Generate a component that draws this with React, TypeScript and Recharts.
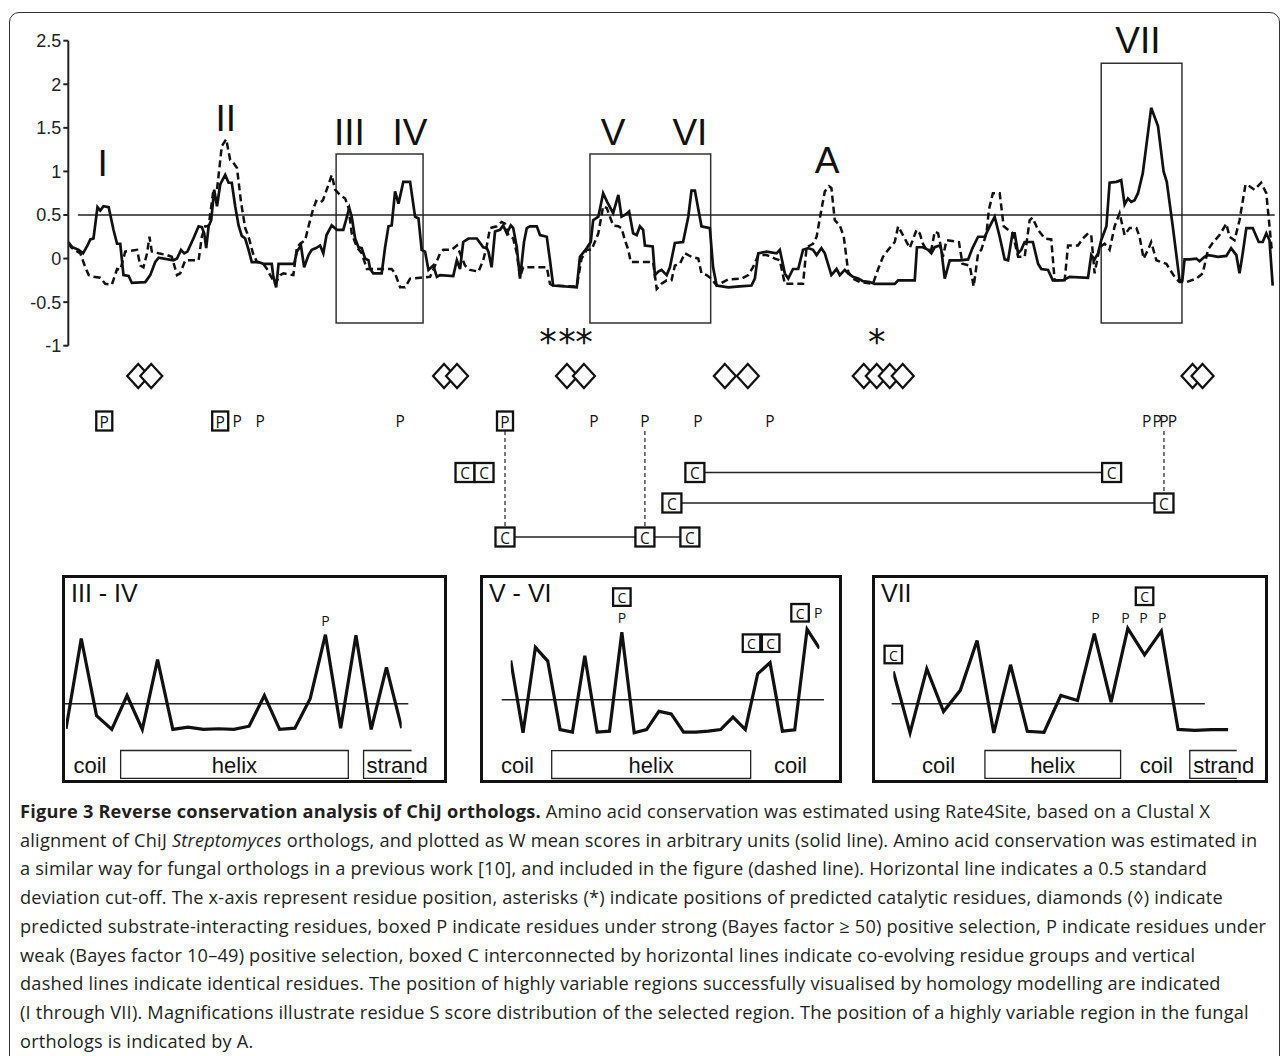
import React from 'react';
import {
  ComposedChart,
  LineChart,
  Line,
  XAxis,
  YAxis,
  ReferenceLine,
  ReferenceArea,
  ReferenceDot,
} from 'recharts';

// residue position vs W mean score, Streptomyces orthologs (solid line)
const streptomycesScores: [number, number][] = [
  [0, 0.19], [1, 0.13], [2.6, 0.1], [3.7, 0.06], [4.8, 0.15], [5.5, 0.22], [6.3, 0.23], [7.3, 0.59], [8, 0.55],
  [8.8, 0.6], [10.1, 0.59], [11.3, 0.33], [12.2, 0.17], [13, 0.17], [13.8, -0.19], [15.1, -0.2], [15.9, -0.28],
  [19.25, -0.27], [20.5, -0.19], [21.75, -0.04], [22.6, 0.01], [26.3, -0.02], [27.2, 0], [28.2, 0.1], [29, 0.06],
  [29.8, 0.08], [31.3, 0.23], [32.6, 0.37], [33.4, 0.36], [34, 0.29], [34.5, 0.12], [35.1, 0.37], [35.75, 0.44],
  [36.5, 0.79], [37.2, 0.6], [38, 0.85], [39.25, 0.96], [40.1, 0.87], [40.9, 0.87], [41.75, 0.6], [42.6, 0.38],
  [43.4, 0.26], [44.25, 0.23], [45.1, 0.1], [45.9, -0.04], [47.6, -0.04], [48.8, -0.06], [50.9, -0.06],
  [51.3, -0.21], [52, -0.33], [52.6, -0.06], [56.5, -0.06], [57.2, 0.08], [58.2, 0.15], [59, -0.1], [60.1, 0.04],
  [60.9, 0.1], [62, 0.12], [63, 0.15], [63.8, 0.06], [64.6, 0.27], [65.9, 0.38], [67.2, 0.33], [68.8, 0.33],
  [69.7, 0.48], [70.3, 0.58], [70.9, 0.48], [71.75, 0.23], [72.6, 0.13], [73.4, 0.12], [74.25, 0], [75.1, -0.02],
  [75.5, -0.12], [76.3, -0.17], [78.4, -0.17], [79.25, 0.13], [80.1, 0.37], [80.9, 0.38], [81.75, 0.77],
  [82.6, 0.63], [83.8, 0.88], [85.5, 0.88], [86.75, 0.48], [87.6, 0.46], [88.4, 0.1], [89.25, 0.08],
  [90.1, -0.13], [91.3, -0.08], [92.2, -0.21], [93, -0.19], [96.3, -0.2], [97.2, -0.02], [98, -0.12],
  [98.8, 0.19], [100.1, 0.23], [102.2, 0.23], [103.8, 0.13], [104.7, 0.12], [105.1, 0.08], [105.9, -0.1],
  [106.75, 0.31], [108, 0.33], [108.8, 0.38], [109.7, 0.29], [110.7, 0.38], [111.3, 0.35], [112.2, 0.13],
  [113, -0.23], [114, 0.19], [114.7, 0.35], [115.5, 0.37], [117.2, 0.37], [118, 0.27], [119.7, 0.25],
  [120.5, -0.02], [121.3, -0.31], [127.2, -0.33], [128, 0.02], [129.7, 0.12], [130.7, 0.19], [131.3, 0.44],
  [132.6, 0.48], [133.8, 0.75], [134.8, 0.65], [136.3, 0.52], [137.6, 0.73], [138.4, 0.48], [139.25, 0.5],
  [140.3, 0.54], [141.3, 0.29], [142.2, 0.27], [143, 0.37], [143.8, 0.33], [144.25, 0.15], [146.2, 0.14],
  [146.75, -0.19], [147.6, -0.15], [148.4, -0.13], [149.7, -0.19], [150.5, -0.1], [151.75, 0.18], [153.8, 0.19],
  [155.1, 0.48], [155.9, 0.78], [156.75, 0.78], [158.4, 0.37], [160.5, 0.35], [161.3, -0.1], [162.2, -0.31],
  [165.1, -0.33], [168, -0.32], [170.9, -0.31], [171.75, -0.23], [172.6, 0.06], [174.7, 0.08], [177.2, 0.06],
  [178, 0.1], [179.25, -0.17], [180.1, -0.23], [181.3, -0.12], [182.6, -0.12], [183.8, 0.1], [185.1, 0.12],
  [186.3, 0.1], [187.2, 0.04], [188.4, 0.12], [189.25, 0.06], [190.9, -0.19], [192.2, -0.12], [193, -0.19],
  [194.25, -0.13], [195.1, -0.17], [196.3, -0.21], [197.6, -0.23], [198.8, -0.26], [200.5, -0.27],
  [201.75, -0.29], [206.75, -0.29], [207.6, -0.25], [211.75, -0.25], [212.3, 0.13], [213.8, 0.13], [215.1, 0.1],
  [215.9, 0.06], [216.75, 0.13], [218, 0.15], [218.4, 0.1], [219.25, -0.23], [220.5, -0.02], [223, -0.02],
  [225.1, -0.01], [226.2, 0.12], [227.6, 0.25], [229.25, 0.25], [230.3, 0.35], [231.75, 0.48], [233, 0.25],
  [234.25, -0.01], [235.1, -0.02], [236.2, 0.29], [236.75, 0.29], [237.6, 0.06], [238.4, 0.1], [239.25, 0.19],
  [241.3, 0.19], [242.6, -0.06], [243.4, -0.12], [245.1, -0.13], [246.3, -0.25], [248.8, -0.25], [250.5, -0.21],
  [255.1, -0.22], [255.9, 0.04], [256.75, -0.01], [257.6, 0.06], [258.4, 0.21], [259.7, 0.37], [260.5, 0.87],
  [262.2, 0.88], [263.4, 0.9], [264.25, 0.62], [265.1, 0.69], [265.9, 0.65], [266.75, 0.67], [267.6, 0.75],
  [268.8, 0.98], [270.9, 1.73], [272.6, 1.52], [274, 1.0], [274.8, 0.88], [276.3, 0.37], [278, -0.25],
  [278.7, -0.25], [279.25, -0.01], [280.5, -0.01], [282.2, 0], [283, -0.03], [284.25, 0.02], [285.1, 0.04],
  [286.3, 0.03], [287.6, 0.02], [289.7, 0.03], [290.9, 0.12], [292.2, 0.04], [293, -0.17], [293.8, 0.06],
  [294.7, 0.35], [296.3, 0.35], [297.8, 0.19], [298.8, 0.19], [299.7, 0.29], [300.5, 0.21], [301.3, -0.31],
];

// fungal orthologs, previous work (dashed line)
const fungalScores: [number, number][] = [
  [0, 0.17], [0.9, 0.12], [3, 0.06], [4.25, -0.1], [5.1, -0.19], [6.3, -0.21], [8, -0.22], [9.25, -0.29],
  [10.9, -0.3], [12.2, -0.12], [13, -0.13], [14.25, 0.08], [17.2, 0.1], [18, -0.08], [18.8, -0.1], [19.7, 0.06],
  [20.3, 0.25], [20.9, 0.08], [22.6, 0.06], [24.7, 0.04], [25.9, 0.02], [27.2, -0.19], [28, -0.17], [29.25, -0.02],
  [32.6, -0.02], [33.4, 0.25], [34.25, 0.37], [35.1, 0.37], [36.2, 0.75], [37.2, 0.79], [38.4, 1.29], [39.5, 1.37],
  [40.5, 1.13], [41.3, 1.1], [42.2, 1.04], [43.2, 0.65], [44.25, 0.35], [45.1, 0.25], [46.2, 0.06], [47.2, -0.04],
  [48.8, -0.06], [49.7, -0.12], [50.5, -0.19], [51.75, -0.29], [53, -0.19], [53.8, -0.17], [56.3, -0.19],
  [57.2, 0.13], [58, 0.17], [59.25, 0.21], [60.1, 0.37], [61.2, 0.56], [62, 0.66], [63, 0.64], [63.7, 0.67],
  [65.1, 0.85], [65.9, 0.96], [66.75, 0.79], [68, 0.73], [69.25, 0.69], [70.1, 0.58], [70.9, 0.29], [72.2, 0.13],
  [73.4, 0.06], [74.7, -0.12], [80.9, -0.12], [81.75, -0.17], [83, -0.33], [84.25, -0.33], [85.5, -0.23],
  [88, -0.22], [90.5, -0.21], [91.75, -0.08], [93, 0.06], [93.8, 0.1], [95.9, 0.1], [97.2, 0.15], [98, 0.06],
  [99.25, -0.08], [100.5, -0.13], [102.6, -0.15], [103.8, -0.02], [104.7, 0.15], [105.5, 0.35], [107.2, 0.37],
  [108.4, 0.42], [109.25, 0.4], [110.1, 0.27], [111.3, 0.23], [112.2, 0.06], [113, -0.21], [113.8, -0.1],
  [119.7, -0.1], [120.5, -0.29], [121.3, -0.31], [127.2, -0.32], [128.4, 0], [129.7, 0.1], [130.9, 0.1],
  [132.6, 0.29], [133.8, 0.6], [134.7, 0.58], [135.5, 0.48], [136.3, 0.38], [137.6, 0.37], [138.4, 0.35],
  [139.25, 0.21], [140.1, 0.1], [140.7, -0.04], [146.3, -0.04], [147.2, -0.35], [148.4, -0.29], [149.7, -0.25],
  [150.9, -0.25], [151.75, -0.08], [153, -0.06], [154.25, 0.06], [155.9, 0.02], [157.6, 0], [158.4, -0.17],
  [159.7, -0.19], [160.9, -0.23], [162.2, -0.31], [165.1, -0.24], [168.4, -0.23], [170.1, -0.19], [171.3, -0.1],
  [172.6, 0.04], [174.7, 0.04], [176.75, 0], [178, -0.02], [179.25, -0.29], [183.8, -0.29], [184.7, 0.13],
  [186.3, 0.17], [187.2, 0.25], [188.4, 0.56], [189.25, 0.77], [190.3, 0.83], [190.9, 0.81], [191.75, 0.44],
  [193, 0.38], [194, 0.25], [195.1, -0.15], [196.3, -0.23], [198, -0.27], [201.3, -0.29], [202.6, -0.12],
  [203.8, 0.02], [205.1, 0.1], [206.75, 0.19], [207.6, 0.37], [208.8, 0.27], [210.5, 0.12], [212.2, 0.33],
  [213, 0.29], [213.8, 0.17], [214.7, 0.1], [215.9, 0.1], [216.75, 0.31], [217.6, 0.29], [218.8, 0.02],
  [219.7, 0.21], [222.8, 0.19], [223.7, -0.06], [225.5, -0.08], [226.5, -0.32], [227.6, 0.06], [228.4, 0.1],
  [229.7, 0.29], [230.3, 0.56], [231.3, 0.75], [233, 0.75], [234, 0.37], [235.1, 0.33], [236.3, 0.29],
  [236.75, 0.19], [237.6, 0.02], [239.25, 0.02], [240.5, 0.44], [241.2, 0.47], [242.6, 0.33], [244.25, 0.23],
  [245.9, 0.22], [246.75, -0.25], [249.25, -0.25], [250.1, 0.15], [252.6, 0.15], [253.8, 0.23], [255.1, 0.29],
  [255.9, 0.27], [256.75, -0.17], [258, 0.13], [259.25, 0.17], [260.5, 0.1], [261.75, 0.37], [263, 0.52],
  [264.25, 0.27], [265.5, 0.35], [267.2, 0.35], [268, 0.25], [269, 0], [270.1, 0.1], [270.9, 0.19], [272.2, -0.02],
  [274.7, -0.06], [275.5, -0.12], [276.75, -0.21], [278, -0.27], [279.7, -0.27], [282.2, -0.23], [283.8, -0.17],
  [285.1, 0.1], [286.3, 0.18], [288, 0.27], [289.7, 0.4], [290.5, 0.25], [291.75, 0.21], [293, 0.44],
  [294.5, 0.85], [295.5, 0.83], [296.75, 0.79], [298.4, 0.87], [299.7, 0.75], [300.5, 0.37], [301, 0.13],
  [301.25, 0.1],
];

const scoreTicks = [-1, -0.5, 0, 0.5, 1, 1.5, 2, 2.5];
const cutoff = 0.5;
const residueRange: [number, number] = [0, 302];

// boxed highly variable regions (residues, score extent)
const regionBoxes = [
  { from: 67, to: 88.75, low: -0.74, high: 1.2 },
  { from: 130.5, to: 160.7, low: -0.74, high: 1.2 },
  { from: 258.4, to: 278.6, low: -0.74, high: 2.24 },
];
const regionLabels = [
  { text: 'I', x: 8.6, y: 1.09 },
  { text: 'II', x: 39.4, y: 1.61 },
  { text: 'III', x: 70.3, y: 1.45 },
  { text: 'IV', x: 85.5, y: 1.45 },
  { text: 'V', x: 136.3, y: 1.45 },
  { text: 'VI', x: 155.5, y: 1.45 },
  { text: 'A', x: 189.8, y: 1.13 },
  { text: 'VII', x: 267.6, y: 2.5 },
];

// residue annotations under the profile
const catalyticResidues = [120, 124.75, 129, 202.25];
const substrateResidues = [17.5, 20.75, 94, 97.25, 124.75, 129, 164.25, 170, 199, 202.25, 205.5, 208.75, 281.25, 283.75];
const strongSelection = [9, 38, 109.25];
const weakSelection = [42.25, 48, 83, 131.5, 144.25, 157.5, 175.5, 269.75, 272.4, 274.1, 276.2];
const coevolvingPair = [99.25, 104];
const coevolvingGroups = [[156.75, 261], [151, 274.1], [109.25, 144.25, 155.5]];
const identicalResidues = [
  { residue: 109.25, group: 2 },
  { residue: 144.25, group: 2 },
  { residue: 274.1, group: 1 },
];

// magnified S score profiles
const scoresIIItoIV = [-0.28, 2.54, 0.13, -0.3, 0.76, -0.3, 1.88, -0.3, -0.23, -0.3, -0.28, -0.3, -0.2, 0.76, -0.3, -0.26, 0.66, 2.66, -0.26, 2.64, -0.3, 1.64, -0.26];
const scoresVtoVI = [1.73, -0.53, 2.14, 1.71, -0.43, -0.51, 1.88, -0.51, -0.48, 2.61, -0.53, -0.43, 0.14, 0.06, -0.51, -0.51, -0.48, -0.43, -0.04, -0.43, 1.31, 1.66, -0.48, -0.44, 2.7, 2.11];
const scoresVII = [1.51, -0.41, 1.59, 0.26, 0.92, 2.48, -0.41, 1.72, -0.36, -0.39, 0.76, 0.6, 2.69, 0.55, 2.86, 2.03, 2.77, -0.3, -0.33, -0.31, -0.31];

const SANS = '"Liberation Sans", Arial, sans-serif';
const MYRIAD = '"Open Sans", "Noto Sans", sans-serif';
const INK = '#111';

// annotation track rows (inside the annotation strip)
const TRACK = { star: 19, diamond: 56, p: 101 };
const groupRows = [152.5, 183, 217];

const RegionText = (text: string) => (p: any) => (
  <text x={p.cx} y={p.cy} textAnchor="middle" dominantBaseline="central" fontSize={37} fontFamily={SANS} fill={INK}>
    {text}
  </text>
);

const Diamond = (p: any) => (
  <polygon
    points={`${p.cx},${p.cy - 12} ${p.cx + 11},${p.cy} ${p.cx},${p.cy + 12} ${p.cx - 11},${p.cy}`}
    fill="#fff"
    stroke={INK}
    strokeWidth={2.2}
  />
);

const Star = (p: any) => (
  <text x={p.cx} y={p.cy + 15} textAnchor="middle" fontSize={35} fontFamily={'"DejaVu Sans", sans-serif'} fill={INK}>
    *
  </text>
);

const Letter = (ch: string, size = 15.5) => (p: any) => (
  <text x={p.cx} y={p.cy} textAnchor="middle" dominantBaseline="central" fontSize={size} fontFamily={MYRIAD} fill={INK}>
    {ch}
  </text>
);

const BoxedLetter = (ch: string, w: number, h: number, size = 15.5) => (p: any) => (
  <g>
    <rect x={p.cx - w / 2} y={p.cy - h / 2} width={w} height={h} fill="#fff" stroke={INK} strokeWidth={2.3} />
    <text x={p.cx} y={p.cy + 0.5} textAnchor="middle" dominantBaseline="central" fontSize={size} fontFamily={MYRIAD} fill={INK}>
      {ch}
    </text>
  </g>
);

const linkShape = (p: any) => (
  <line x1={p.x1 + 9.5} y1={p.y1} x2={p.x2 - 9.5} y2={p.y2} stroke="#222" strokeWidth={1.5} />
);
const identShape = (p: any) => (
  <line x1={p.x1} y1={p.y1 + 10} x2={p.x2} y2={p.y2 - 9.5} stroke="#333" strokeWidth={1.3} strokeDasharray="4 3" />
);

function MainProfile() {
  const solid = streptomycesScores.map(([x, y]) => ({ x, y }));
  const dashed = fungalScores.map(([x, y]) => ({ x, y }));
  return (
    <div style={{ position: 'absolute', left: 0, top: 0 }}>
      <ComposedChart width={1282} height={356} margin={{ top: 40.7, right: 6.5, bottom: 10.3, left: 13.3 }}>
        <XAxis type="number" dataKey="x" domain={residueRange} hide allowDataOverflow />
        <YAxis
          type="number"
          domain={[-1, 2.5]}
          ticks={scoreTicks}
          interval={0}
          width={55}
          axisLine={{ stroke: '#222', strokeWidth: 2 }}
          tickLine={{ stroke: '#222', strokeWidth: 2 }}
          tickSize={5}
          tickMargin={2}
          tick={{ fontSize: 18, fill: '#222', fontFamily: SANS }}
          allowDataOverflow
        />
        {regionBoxes.map((b, i) => (
          <ReferenceArea
            key={`box-${i}`}
            x1={b.from}
            x2={b.to}
            y1={b.low}
            y2={b.high}
            fill="none"
            stroke="#333"
            strokeWidth={1.5}
            ifOverflow="visible"
          />
        ))}
        <ReferenceLine
          segment={[{ x: 2.4, y: cutoff }, { x: 301.8, y: cutoff }]}
          stroke="#222"
          strokeWidth={1.5}
          ifOverflow="visible"
        />
        <Line
          data={dashed}
          dataKey="y"
          type="linear"
          stroke={INK}
          strokeWidth={2.5}
          strokeDasharray="7 4"
          dot={false}
          isAnimationActive={false}
        />
        <Line
          data={solid}
          dataKey="y"
          type="linear"
          stroke={INK}
          strokeWidth={2.7}
          dot={false}
          isAnimationActive={false}
        />
        {regionLabels.map((l) => (
          <ReferenceDot key={l.text} x={l.x} y={l.y} r={0} ifOverflow="visible" shape={RegionText(l.text)} />
        ))}
      </ComposedChart>
    </div>
  );
}

function AnnotationStrip() {
  const links: { a: number; b: number; row: number }[] = [];
  coevolvingGroups.forEach((g, gi) => {
    for (let k = 0; k < g.length - 1; k++) links.push({ a: g[k], b: g[k + 1], row: groupRows[gi] });
  });
  return (
    <div style={{ position: 'absolute', left: 0, top: 320 }}>
      <ComposedChart width={1282} height={240} margin={{ top: 0, right: 6.5, bottom: 0, left: 68.3 }}>
        <XAxis type="number" dataKey="x" domain={residueRange} hide allowDataOverflow />
        <YAxis type="number" domain={[0, 240]} reversed hide allowDataOverflow />
        {links.map((l, i) => (
          <ReferenceLine
            key={`link-${i}`}
            segment={[{ x: l.a, y: l.row }, { x: l.b, y: l.row }]}
            ifOverflow="visible"
            shape={linkShape}
          />
        ))}
        {identicalResidues.map((d, i) => (
          <ReferenceLine
            key={`ident-${i}`}
            segment={[{ x: d.residue, y: TRACK.p }, { x: d.residue, y: groupRows[d.group] }]}
            ifOverflow="visible"
            shape={identShape}
          />
        ))}
        {catalyticResidues.map((r, i) => (
          <ReferenceDot key={`star-${i}`} x={r} y={TRACK.star} r={0} ifOverflow="visible" shape={Star} />
        ))}
        {substrateResidues.map((r, i) => (
          <ReferenceDot key={`dia-${i}`} x={r} y={TRACK.diamond} r={0} ifOverflow="visible" shape={Diamond} />
        ))}
        {strongSelection.map((r, i) => (
          <ReferenceDot key={`sp-${i}`} x={r} y={TRACK.p} r={0} ifOverflow="visible" shape={BoxedLetter('P', 16, 19)} />
        ))}
        {weakSelection.map((r, i) => (
          <ReferenceDot key={`wp-${i}`} x={r} y={TRACK.p} r={0} ifOverflow="visible" shape={Letter('P')} />
        ))}
        {coevolvingPair.map((r, i) => (
          <ReferenceDot key={`cc-${i}`} x={r} y={groupRows[0]} r={0} ifOverflow="visible" shape={BoxedLetter('C', 19, 19)} />
        ))}
        {coevolvingGroups.map((g, gi) =>
          g.map((r, i) => (
            <ReferenceDot
              key={`c-${gi}-${i}`}
              x={r}
              y={groupRows[gi]}
              r={0}
              ifOverflow="visible"
              shape={BoxedLetter('C', 19, 19)}
            />
          ))
        )}
      </ComposedChart>
    </div>
  );
}

type Mark = { x: number; y: number; ch: string; boxed?: boolean };
type Struct = { kind: 'coil' | 'helix' | 'strand'; from: number; to?: number };

const insets: {
  title: string;
  box: [number, number, number, number];
  values: number[];
  x0: number;
  dx: number;
  yLine: number;
  line: [number, number];
  struct: Struct[];
  structY: [number, number, number];
  marks: Mark[];
}[] = [
  {
    title: 'III - IV',
    box: [63, 576.5, 445, 781],
    values: scoresIIItoIV,
    x0: 66,
    dx: 15.26,
    yLine: 703.3,
    line: [-0.1, 22.43],
    struct: [
      { kind: 'coil', from: 1.57 },
      { kind: 'helix', from: 3.58, to: 18.5 },
      { kind: 'strand', from: 19.5, to: 22.65 },
    ],
    structY: [-0.96, -1.83, -1.42],
    marks: [{ x: 17, y: 3.1, ch: 'P' }],
  },
  {
    title: 'V - VI',
    box: [481, 576.5, 840.7, 781],
    values: scoresVtoVI,
    x0: 510.7,
    dx: 12.35,
    yLine: 699.3,
    line: [-0.73, 25.37],
    struct: [
      { kind: 'coil', from: 0.55 },
      { kind: 'helix', from: 3.32, to: 19.43 },
      { kind: 'coil', from: 22.65 },
    ],
    structY: [-1.09, -1.96, -1.55],
    marks: [
      { x: 9, y: 3.71, ch: 'C', boxed: true },
      { x: 9, y: 3.08, ch: 'P' },
      { x: 19.5, y: 2.27, ch: 'C', boxed: true },
      { x: 21.05, y: 2.27, ch: 'C', boxed: true },
      { x: 23.43, y: 3.22, ch: 'C', boxed: true },
      { x: 24.9, y: 3.23, ch: 'P' },
    ],
  },
  {
    title: 'VII',
    box: [873, 576.5, 1266, 781],
    values: scoresVII,
    x0: 893.3,
    dx: 16.75,
    yLine: 703.3,
    line: [-0.1, 18.6],
    struct: [
      { kind: 'coil', from: 2.7 },
      { kind: 'helix', from: 5.47, to: 13.57 },
      { kind: 'coil', from: 15.7 },
      { kind: 'strand', from: 17.7, to: 20.5 },
    ],
    structY: [-0.96, -1.83, -1.42],
    marks: [
      { x: 0, y: 2.04, ch: 'C', boxed: true },
      { x: 12.07, y: 3.21, ch: 'P' },
      { x: 13.86, y: 3.21, ch: 'P' },
      { x: 14.94, y: 3.21, ch: 'P' },
      { x: 16.05, y: 3.21, ch: 'P' },
      { x: 15, y: 3.86, ch: 'C', boxed: true },
    ],
  },
];

const StructText = (text: string, anchor: 'middle' | 'start') => (p: any) => (
  <text x={p.cx} y={p.cy} textAnchor={anchor} dominantBaseline="central" fontSize={22} fontFamily={SANS} fill={INK}>
    {text}
  </text>
);

const openBox = (p: any) => (
  <path
    d={`M${p.x + p.width},${p.y} H${p.x} V${p.y + p.height} H${p.x + p.width}`}
    fill="none"
    stroke="#222"
    strokeWidth={1.3}
  />
);

function Inset({ cfg }: { cfg: (typeof insets)[number] }) {
  const [bl, bt, br, bb] = cfg.box;
  const n = cfg.values.length;
  const yMin = -1.9;
  const yMax = 3.8;
  const unit = 32;
  const plotLeft = cfg.x0;
  const plotRight = cfg.x0 + (n - 1) * cfg.dx;
  const plotTop = cfg.yLine - (yMax - cutoff) * unit;
  const plotBottom = cfg.yLine + (cutoff - yMin) * unit;
  const data = cfg.values.map((v, i) => ({ i, v }));
  const [sTop, sBottom, sText] = cfg.structY;
  return (
    <>
      <div style={{ position: 'absolute', left: bl, top: bt }}>
        <LineChart
          width={br - bl}
          height={bb - bt}
          data={data}
          margin={{ left: plotLeft - bl, right: br - plotRight, top: plotTop - bt, bottom: bb - plotBottom }}
        >
          <XAxis type="number" dataKey="i" domain={[0, n - 1]} hide allowDataOverflow />
          <YAxis type="number" domain={[yMin, yMax]} hide allowDataOverflow />
          <ReferenceLine
            segment={[{ x: cfg.line[0], y: cutoff }, { x: cfg.line[1], y: cutoff }]}
            stroke="#222"
            strokeWidth={1.4}
            ifOverflow="visible"
          />
          {cfg.struct.map((s, i) =>
            s.kind === 'helix' ? (
              <ReferenceArea
                key={`s-${i}`}
                x1={s.from}
                x2={s.to}
                y1={sBottom}
                y2={sTop}
                fill="none"
                stroke="#222"
                strokeWidth={1.3}
                ifOverflow="visible"
              />
            ) : s.kind === 'strand' ? (
              <ReferenceArea
                key={`s-${i}`}
                x1={s.from}
                x2={s.to}
                y1={sBottom}
                y2={sTop}
                ifOverflow="visible"
                shape={openBox}
              />
            ) : null
          )}
          {cfg.struct.map((s, i) => (
            <ReferenceDot
              key={`t-${i}`}
              x={s.kind === 'helix' ? ((s.from + (s.to as number)) / 2) : s.kind === 'strand' ? s.from + 0.2 : s.from}
              y={sText}
              r={0}
              ifOverflow="visible"
              shape={StructText(s.kind, s.kind === 'strand' ? 'start' : 'middle')}
            />
          ))}
          <Line dataKey="v" type="linear" stroke={INK} strokeWidth={3.2} dot={false} isAnimationActive={false} />
          {cfg.marks.map((m, i) => (
            <ReferenceDot
              key={`m-${i}`}
              x={m.x}
              y={m.y}
              r={0}
              ifOverflow="visible"
              shape={m.boxed ? BoxedLetter(m.ch, 17.5, 17.5, 14) : Letter(m.ch, 14)}
            />
          ))}
        </LineChart>
      </div>
      <div
        style={{
          position: 'absolute',
          left: bl - 1.5,
          top: bt - 1.5,
          width: br - bl + 3,
          height: bb - bt + 3,
          border: '3px solid #111',
          boxSizing: 'border-box',
        }}
      />
      <div
        style={{
          position: 'absolute',
          left: bl + 8,
          top: 581,
          fontFamily: SANS,
          fontSize: 25,
          lineHeight: 1,
          color: INK,
          whiteSpace: 'pre',
        }}
      >
        {cfg.title}
      </div>
    </>
  );
}

const captionLines: React.ReactNode[] = [
  <>
    <b>Figure 3 Reverse conservation analysis of ChiJ orthologs.</b> Amino acid conservation was estimated using
    Rate4Site, based on a Clustal X
  </>,
  <>
    alignment of ChiJ <i>Streptomyces</i> orthologs, and plotted as W mean scores in arbitrary units (solid line). Amino
    acid conservation was estimated in
  </>,
  'a similar way for fungal orthologs in a previous work [10], and included in the figure (dashed line). Horizontal line indicates a 0.5 standard',
  'deviation cut-off. The x-axis represent residue position, asterisks (*) indicate positions of predicted catalytic residues, diamonds (\u25CA) indicate',
  'predicted substrate-interacting residues, boxed P indicate residues under strong (Bayes factor \u2265 50) positive selection, P indicate residues under',
  'weak (Bayes factor 10\u201349) positive selection, boxed C interconnected by horizontal lines indicate co-evolving residue groups and vertical',
  'dashed lines indicate identical residues. The position of highly variable regions successfully visualised by homology modelling are indicated',
  '(I through VII). Magnifications illustrate residue S score distribution of the selected region. The position of a highly variable region in the fungal',
  'orthologs is indicated by A.',
];

export default function App() {
  return (
    <div
      style={{
        position: 'absolute',
        left: 0,
        top: 0,
        width: 1282,
        height: 1056,
        overflow: 'hidden',
        background: '#fff',
      }}
    >
      <div
        style={{
          position: 'absolute',
          left: 9,
          top: 12,
          width: 1271,
          height: 1060,
          border: '1.5px solid #333',
          borderRadius: 10,
          boxSizing: 'border-box',
        }}
      />
      <MainProfile />
      <AnnotationStrip />
      {insets.map((cfg) => (
        <Inset key={cfg.title} cfg={cfg} />
      ))}
      <div
        style={{
          position: 'absolute',
          left: 20,
          top: 797,
          fontFamily: MYRIAD,
          fontSize: 18.2,
          letterSpacing: '0.2px',
          lineHeight: '28.7px',
          color: '#231f20',
        }}
      >
        {captionLines.map((l, i) => (
          <div key={i} style={{ whiteSpace: 'nowrap' }}>
            {l}
          </div>
        ))}
      </div>
    </div>
  );
}
